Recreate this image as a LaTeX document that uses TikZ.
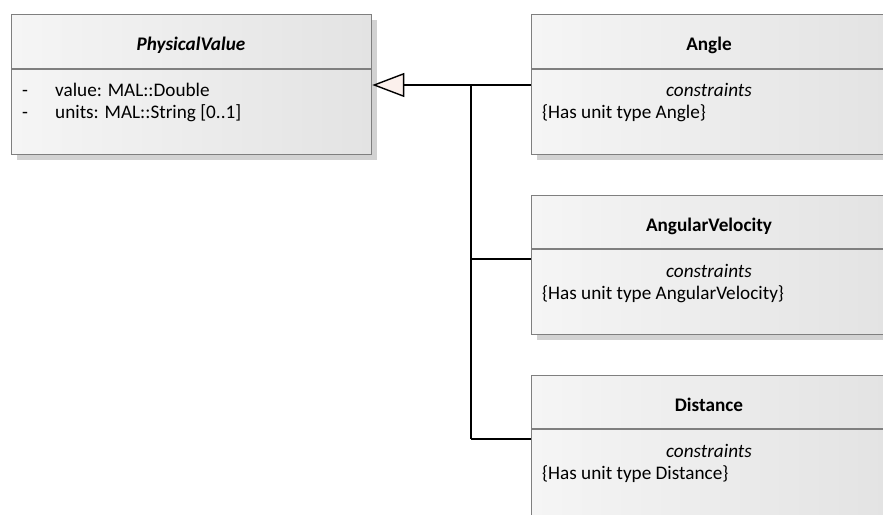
\documentclass[tikz,border=0pt]{standalone}
\usepackage{fontspec}
\setmainfont{Carlito}
\usetikzlibrary{arrows.meta,shadows}
\definecolor{boxborder}{HTML}{7F7F7F}
\definecolor{fillL}{HTML}{F5F5F5}
\definecolor{fillR}{HTML}{E3E3E3}
\definecolor{shadowgray}{HTML}{D2D2D2}
\definecolor{arrowfill}{HTML}{FBF0EC}
\tikzset{
  umlbox/.style={rectangle, draw=boxborder, line width=1.3pt, left color=fillL, right color=fillR,
    inner sep=0pt, anchor=north west,
    drop shadow={shadow xshift=5pt, shadow yshift=-5pt, fill=shadowgray, opacity=1}},
  divider/.style={draw=boxborder, line width=1.3pt},
  titletext/.style={font=\fontsize{19.2}{22}\selectfont\bfseries, anchor=base, inner sep=0pt},
  italtext/.style={font=\fontsize{19.2}{22}\selectfont\itshape, anchor=base, inner sep=0pt},
  bodytext/.style={font=\fontsize{19.2}{22}\selectfont, anchor=base west, inner sep=0pt},
  conn/.style={draw=black, line width=1.4pt},
  gen/.style={conn, -{Triangle[width=24pt,length=32pt,fill=arrowfill,line width=1.4pt]}}
}
\begin{document}
\begin{tikzpicture}[x=1pt,y=-1pt]
\useasboundingbox (0,0) rectangle (883,514);
\clip (0,0) rectangle (883,514);
% PhysicalValue
\node[umlbox, minimum width=360pt, minimum height=140pt] (pv) at (11,14) {};
\draw[divider] (pv.west |- 0,69) -- (pv.east |- 0,69);
\node[titletext, font=\fontsize{19.2}{22}\selectfont\bfseries\itshape] (pvt) at (191,50) {PhysicalValue};
\node[bodytext] (pva1d) at (22,96) {-};
\node[bodytext] (pva1) at (55,96) {value: MAL::Double};
\node[bodytext] (pva2d) at (22,118) {-};
\node[bodytext] (pva2) at (55,118) {units: MAL::String [0..1]};
% Angle
\node[umlbox, minimum width=356pt, minimum height=140pt] (an) at (531,14) {};
\draw[divider] (an.west |- 0,69) -- (an.east |- 0,69);
\node[titletext] (ant) at (709,50) {Angle};
\node[italtext] (anc) at (709,96) {constraints};
\node[bodytext] (anb) at (542,118) {\{Has unit type Angle\}};
% AngularVelocity
\node[umlbox, minimum width=356pt, minimum height=139pt] (av) at (531,195) {};
\draw[divider] (av.west |- 0,249) -- (av.east |- 0,249);
\node[titletext] (avt) at (709,231) {AngularVelocity};
\node[italtext] (avc) at (709,277) {constraints};
\node[bodytext] (avb) at (542,299) {\{Has unit type AngularVelocity\}};
% Distance
\node[umlbox, minimum width=356pt, minimum height=160pt] (di) at (531,375) {};
\draw[divider] (di.west |- 0,429) -- (di.east |- 0,429);
\node[titletext] (dit) at (709,411) {Distance};
\node[italtext] (dic) at (709,457) {constraints};
\node[bodytext] (dib) at (542,479) {\{Has unit type Distance\}};
% connectors
\coordinate (j1) at (471,85);
\coordinate (j2) at (471,259);
\coordinate (j3) at (471,439);
\draw[gen] (an.west |- j1) -- (pv.east |- j1);
\draw[conn] (j1) -- (j3);
\draw[conn] (av.west |- j2) -- (j2);
\draw[conn] (di.west |- j3) -- (j3);
\end{tikzpicture}
\end{document}
